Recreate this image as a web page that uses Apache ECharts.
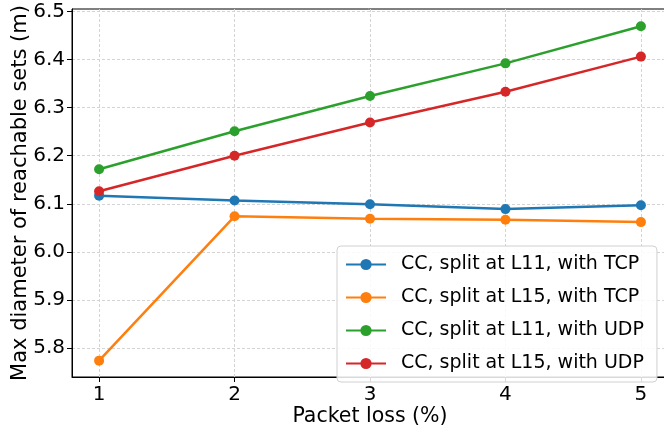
<!DOCTYPE html>
<html>
<head>
<meta charset="utf-8">
<script src="https://cdn.jsdelivr.net/npm/echarts@6/dist/echarts.min.js"></script>
<style>html,body{margin:0;padding:0;background:#fff;}#c{width:664px;height:429px;}</style>
</head>
<body>
<div id="c"></div>
<script>
const packetLoss = [1, 2, 3, 4, 5];
const xTicks = [1, 2, 3, 4, 5];
const yTicks = [5.8, 5.9, 6.0, 6.1, 6.2, 6.3, 6.4, 6.5];
const seriesNames = [
  'CC, split at L11, with TCP',
  'CC, split at L15, with TCP',
  'CC, split at L11, with UDP',
  'CC, split at L15, with UDP'
];
const l11Tcp = [6.117, 6.107, 6.099, 6.089, 6.097];
const l15Tcp = [5.774, 6.074, 6.069, 6.067, 6.062];
const l11Udp = [6.172, 6.251, 6.324, 6.392, 6.469];
const l15Udp = [6.126, 6.200, 6.269, 6.333, 6.406];
const colors = ['#1f77b4', '#ff7f0e', '#2ca02c', '#d62728'];
const allValues = [l11Tcp, l15Tcp, l11Udp, l15Udp];

const FONT = 'DejaVu Sans';
const chart = echarts.init(document.getElementById('c'), null, {renderer: 'canvas'});
const gridLine = {show: true, lineStyle: {color: '#d4d4d4', width: 1, type: [3, 2]}};

chart.setOption({
  animation: false,
  textStyle: {fontFamily: FONT},
  grid: {left: 72, top: 9, right: -4, bottom: 52, show: true, borderColor: '#000', borderWidth: 1,
    backgroundColor: 'transparent', containLabel: false, outerBoundsMode: 'none'},
  xAxis: {
    type: 'value', min: 0.8, max: 5.2,
    name: 'Packet loss (%)', nameLocation: 'middle', nameGap: 29, nameMoveOverlap: false,
    nameTextStyle: {fontSize: 20.5, color: '#000', fontFamily: FONT},
    axisLine: {show: true, onZero: false, lineStyle: {color: '#000', width: 1}},
    axisTick: {show: true, length: 5, customValues: xTicks, lineStyle: {color: '#000'}},
    axisLabel: {customValues: xTicks, fontSize: 20, color: '#000', margin: 8, fontFamily: FONT},
    splitLine: gridLine
  },
  yAxis: {
    type: 'value', min: 5.740, max: 6.505,
    name: 'Max diameter of reachable sets (m)', nameLocation: 'middle', nameGap: 41, nameMoveOverlap: false,
    nameTextStyle: {fontSize: 21, color: '#000', fontFamily: FONT},
    axisLine: {show: true, lineStyle: {color: '#000', width: 1}},
    axisTick: {show: true, length: 5, customValues: yTicks, lineStyle: {color: '#000'}},
    axisLabel: {customValues: yTicks, fontSize: 20, color: '#000', margin: 7, fontFamily: FONT,
      formatter: v => v.toFixed(1)},
    splitLine: gridLine
  },
  legend: {
    orient: 'vertical', left: 337, top: 246,
    padding: [9, 13, 9, 8],
    itemWidth: 40, itemHeight: 14, itemGap: 14,
    backgroundColor: 'rgba(255,255,255,0.85)',
    borderColor: '#d0d0d0', borderWidth: 1, borderRadius: 4,
    textStyle: {fontSize: 19, color: '#000', fontFamily: FONT, padding: [0, 0, 0, 10]},
    data: seriesNames
  },
  series: seriesNames.map((name, i) => ({
    name: name, type: 'line',
    data: packetLoss.map((x, j) => [x, allValues[i][j]]),
    color: colors[i],
    lineStyle: {width: 2.5},
    symbol: 'circle', symbolSize: 10,
    itemStyle: {color: colors[i]},
    z: 2 + i
  }))
});
</script>
</body>
</html>
